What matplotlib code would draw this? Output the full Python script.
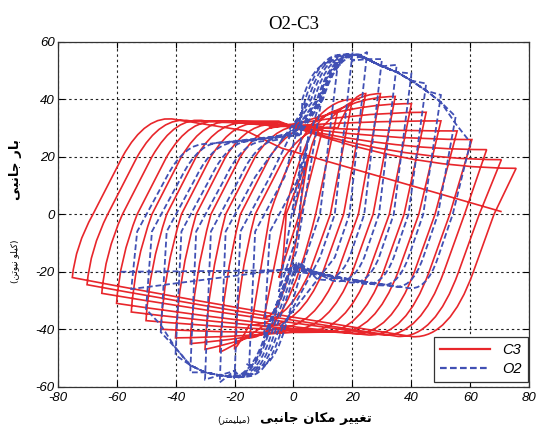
import matplotlib
matplotlib.use('Agg')
import matplotlib.pyplot as plt
from matplotlib.path import Path
from matplotlib.patches import PathPatch
from matplotlib.lines import Line2D

plt.rcParams['axes.unicode_minus'] = False

# ---- C3 (red, solid): one cycle per displacement level, peaks
c3_pos_x = [5, 10, 15, 20, 24.5, 29.5, 34.5, 40, 45, 50, 55.5, 60.5, 65.5, 70.5, 75.5]
c3_pos_y = [20, 30, 36, 40, 42, 42, 41, 38.5, 35.5, 32.5, 29, 26, 22.5, 19, 16]
c3_neg_x = [-5, -10, -15, -20, -25, -30, -35, -40, -45, -50, -55, -60, -65, -70, -75]
c3_neg_y = [-22, -36, -43, -47, -48, -47, -45, -43, -40, -37, -34, -31, -27.5, -24.5, -22]
# force level where each left branch bends into the top, and where the right branch bottoms out
c3_top_y = [29, 29.5, 30, 30, 30.5, 30.5, 31, 31, 31.5, 31.5, 32, 32, 32.5, 32.5, 33]
c3_bot_y = [-36, -37, -38, -38.5, -39, -39.5, -40, -40.5, -41, -41, -41.5, -42, -42, -42.5, -42.6]
c3_pivot_y = [27, 27.5, 28, 28.4, 28.8, 29.2, 29.6, 30, 30.4, 30.8, 31.2, 31.6, 32, 32.4, 32.8]
c3_end = (70.6, 0.9)

# ---- O2 (blue, dashed)
o2_pos_x = [5, 10, 15, 20, 25, 30, 35, 40, 45, 50, 55, 60]
o2_pos_y = [27, 43, 52, 56, 56.5, 54, 52, 49, 45.5, 41.5, 34, 25]
o2_neg_x = [-5, -10, -15, -20, -25, -30, -35, -40, -45, -50, -55, -59]
o2_neg_y = [-27, -43, -52, -57, -58.5, -57.5, -55, -49, -41, -33, -26, -20]
o2_top_y = [27, 27, 26.5, 26.5, 26, 26, 25.5, 25.5, 25, 25, 24.5, 24]
o2_bot_y = [-20, -20.5, -21, -21.5, -22, -22.5, -23, -23.5, -24, -24.5, -25, -25.5]
# where the pinched reloading branches cross +40 / -40 kN
o2_rise_x = [1, 2, 3, 4, 5, 6, 7, 8, 8.5, 9, 9.5, 10]
o2_drop_x = [-1, -2, -3, -4, -5, -6, -7, -8, -8.5, -9, -9.5, -10]

ARABIC = {  # isolated, final, initial, medial
    'ت': ('\ufe95', '\ufe96', '\ufe97', '\ufe98'),
    'غ': ('\ufecd', '\ufece', '\ufecf', '\ufed0'),
    'ی': ('\ufbfc', '\ufbfd', '\ufbfe', '\ufbff'),
    'ر': ('\ufead', '\ufeae', None, None),
    'م': ('\ufee1', '\ufee2', '\ufee3', '\ufee4'),
    'ک': ('\ufb8e', '\ufb8f', '\ufb90', '\ufb91'),
    'ا': ('\ufe8d', '\ufe8e', None, None),
    'ن': ('\ufee5', '\ufee6', '\ufee7', '\ufee8'),
    'ج': ('\ufe9d', '\ufe9e', '\ufe9f', '\ufea0'),
    'ب': ('\ufe8f', '\ufe90', '\ufe91', '\ufe92'),
    'ل': ('\ufedd', '\ufede', '\ufedf', '\ufee0'),
    'و': ('\ufeed', '\ufeee', None, None),
}


def rtl(text):
    # matplotlib has no Arabic shaping, so pick the joined forms and reverse
    out = []
    for i, ch in enumerate(text):
        if ch not in ARABIC:
            out.append(ch)
            continue
        prev = text[i - 1] if i > 0 else ''
        nxt = text[i + 1] if i + 1 < len(text) else ''
        jp = prev in ARABIC and ARABIC[prev][2] is not None
        jn = nxt in ARABIC and ARABIC[ch][2] is not None
        iso, fin, ini, med = ARABIC[ch]
        out.append(med if jp and jn else fin if jp else ini if jn else iso)
    flip = {'(': ')', ')': '('}
    return ''.join(flip.get(c, c) for c in reversed(out))


def add(verts, codes, segs):
    for s in segs:
        if s[0] == 'L':
            verts.append(s[1])
            codes.append(Path.LINETO)
        else:
            verts += [s[1], s[2]]
            codes += [Path.CURVE3, Path.CURVE3]


def c3_up(nx, ny, ytl, pvy, px, py):
    x0 = nx + 7
    x20 = x0 + 10
    ex = x20 + 18
    if ex >= px - 3:
        return [('L', (x0, 0)), ('Q', (x0 + 0.45 * (px - x0), py), (px, py))]
    segs = [('Q', (nx + 1, ny * 0.5), (x0, 0)), ('L', (x20, 20)), ('Q', (x20 + 8, ytl + 2), (ex, ytl))]
    if ex < -4:
        segs.append(('L', (-4 - (33 - ytl) * 2, pvy)))
        ex = -4
    segs.append(('Q', ((ex + px) / 2, py), (px, py)))
    return segs


def c3_down(px, py, ybr, nx, ny):
    x0 = px - 7.5
    ex = x0 - 27.5
    if ex <= nx + 3:
        return [('L', (x0, 0)), ('Q', (x0 + 0.45 * (nx - x0), ny), (nx, ny))]
    return [('L', (x0, 0)), ('L', (x0 - 7, -20)), ('Q', (x0 - 15, ybr - 0.5), (ex, ybr)),
            ('Q', ((ex + nx) / 2, (ybr + ny) / 2 - 1), (nx, ny))]


def o2_up(nx, ny, ty, px, py, k):
    if px <= 10:
        return [('L', (0.5 * (nx + px) - 1, 0.3 * py)), ('L', (px, py))]
    rx = o2_rise_x[k]
    segs = []
    if ny < -8:
        segs.append(('L', (nx + 2, -6)))
    segs.append(('L', (nx + 12, 13)))
    ex = nx + 26
    if ex < rx - 8:
        segs += [('Q', (nx + 18, ty + 0.5), (ex, ty)), ('L', (rx - 8, ty + 3))]
    segs.append(('L', (rx, 40)))
    dx = rx + 13
    segs.append(('Q', (rx + 5, 56.5), (dx, py if px <= dx else 55.5)))
    for j in range(k):
        if dx < o2_pos_x[j] < px:
            segs.append(('L', (o2_pos_x[j], o2_pos_y[j] - 2.5)))
    segs.append(('L', (px, py)))
    return segs


def o2_down(px, py, by, nx, ny, k):
    if px <= 10:
        return [('L', (0.5 * (nx + px) + 1, 0.3 * ny)), ('L', (nx, ny))]
    dx = o2_drop_x[k]
    segs = [('L', (px - 6, 0)), ('L', (px - 11, -15))]
    ex = px - 22
    if ex > dx + 8:
        segs += [('Q', (px - 15, by - 2), (ex, by)), ('L', (dx + 8, by + 6))]
    if ny > by - 8:
        segs.append(('L', (nx, ny)))
        return segs
    segs.append(('L', (dx, -40)))
    ex = dx - 13
    segs.append(('Q', (dx - 5, -57.5), (ex, ny if nx >= ex else -56.5)))
    for j in range(k):
        if nx < o2_neg_x[j] < ex:
            segs.append(('L', (o2_neg_x[j], o2_neg_y[j] + 2.5)))
    segs.append(('L', (nx, ny)))
    return segs


# ---- build both records as continuous paths
c3_v, c3_c = [(0, 0)], [Path.MOVETO]
for k in range(len(c3_pos_x)):
    if k == 0:
        add(c3_v, c3_c, [('L', (c3_pos_x[0], c3_pos_y[0]))])
    else:
        add(c3_v, c3_c, c3_up(c3_neg_x[k - 1], c3_neg_y[k - 1], c3_top_y[k - 1],
                              c3_pivot_y[k - 1], c3_pos_x[k], c3_pos_y[k]))
    add(c3_v, c3_c, c3_down(c3_pos_x[k], c3_pos_y[k], c3_bot_y[k], c3_neg_x[k], c3_neg_y[k]))
# last reloading branch drops off towards zero force
nx, ny = c3_neg_x[-1], c3_neg_y[-1]
add(c3_v, c3_c, [('Q', (nx + 1, ny * 0.5), (nx + 7, 0)), ('L', (nx + 17, 20)),
                 ('Q', (nx + 25, c3_top_y[-1] + 2), (nx + 35, c3_top_y[-1])),
                 ('L', (-16, 29)), ('L', (-4, 23)), ('L', c3_end)])

o2_v, o2_c = [(0, 0)], [Path.MOVETO]
for k in range(len(o2_pos_x)):
    if k == 0:
        add(o2_v, o2_c, [('L', (o2_pos_x[0], o2_pos_y[0]))])
    else:
        add(o2_v, o2_c, o2_up(o2_neg_x[k - 1], o2_neg_y[k - 1], o2_top_y[k - 1],
                              o2_pos_x[k], o2_pos_y[k], k))
    add(o2_v, o2_c, o2_down(o2_pos_x[k], o2_pos_y[k], o2_bot_y[k], o2_neg_x[k], o2_neg_y[k], k))

red = '#e8262b'
blue = '#4150b4'

fig = plt.figure(figsize=(5.38, 4.36), dpi=100)
ax = fig.add_axes([0.107, 0.113, 0.877, 0.791])

ax.add_patch(PathPatch(Path(c3_v, c3_c), fill=False, edgecolor=red, linewidth=1.2, zorder=3))
ax.add_patch(PathPatch(Path(o2_v, o2_c), fill=False, edgecolor=blue, linewidth=1.3,
                       linestyle=(0, (3.2, 1.6)), zorder=3))

ax.set_xlim(-80, 80)
ax.set_ylim(-60, 60)
ax.set_xticks(range(-80, 81, 20))
ax.set_yticks(range(-60, 61, 20))
ax.grid(True, color='#222222', linestyle=(0, (2.2, 2.6)), linewidth=0.8)
ax.tick_params(direction='in', top=True, right=True, length=4, width=0.8, labelsize=9.5)
ax.tick_params(axis='x', pad=3.5)
ax.tick_params(axis='y', pad=2)
for lab in ax.get_xticklabels() + ax.get_yticklabels():
    lab.set_fontfamily('Liberation Sans')
    lab.set_fontstyle('italic')
for sp in ax.spines.values():
    sp.set_color('#333333')
    sp.set_linewidth(0.9)

ax.set_title('O2-C3', fontfamily='Liberation Serif', fontsize=13.5, pad=9)

handles = [Line2D([], [], color=red, lw=1.6), Line2D([], [], color=blue, lw=1.6, linestyle=(0, (3, 1.5)))]
leg = ax.legend(handles, ['C3', 'O2'], loc='lower right', bbox_to_anchor=(0.997, 0.014),
                borderaxespad=0, fancybox=False, framealpha=1, edgecolor='#333333',
                handlelength=3.4, handletextpad=0.9, labelspacing=0.35, borderpad=0.4,
                prop={'family': 'Liberation Sans', 'style': 'italic', 'size': 10.5})
leg.get_frame().set_linewidth(0.9)

fig.text(0.587, 0.041, rtl('تغییر مکان جانبی'), ha='center', va='center',
         fontfamily='DejaVu Sans', fontsize=9.5, fontweight='bold')
fig.text(0.435, 0.038, rtl('(میلیمتر)'), ha='center', va='center',
         fontfamily='DejaVu Sans', fontsize=6.5)
fig.text(0.028, 0.61, rtl('بار جانبی'), ha='center', va='center', rotation=90,
         fontfamily='DejaVu Sans', fontsize=9.5, fontweight='bold')
fig.text(0.028, 0.401, rtl('(کیلو نیوتن)'), ha='center', va='center', rotation=90,
         fontfamily='DejaVu Sans', fontsize=6.5)

fig.savefig('out.png', dpi=100)
